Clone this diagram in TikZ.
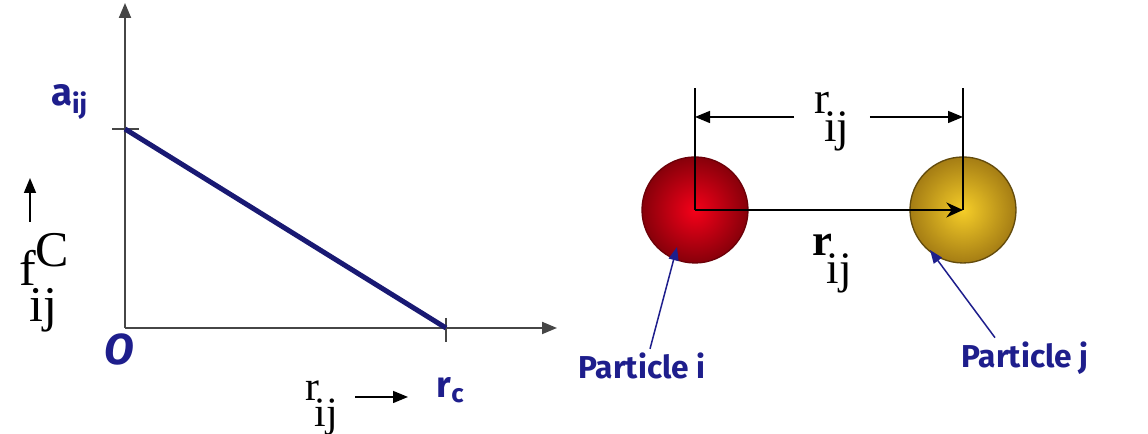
\documentclass[tikz,border=0pt]{standalone}
\usepackage{fontspec}
\setmainfont{Liberation Serif}
\newfontfamily\labfont{Fira Sans}
\usetikzlibrary{arrows.meta, positioning}
\definecolor{labblue}{RGB}{30,30,140}
\definecolor{lineblue}{RGB}{25,25,115}
\definecolor{axisgray}{RGB}{70,70,70}
\definecolor{redin}{RGB}{245,0,25}
\definecolor{redout}{RGB}{135,0,10}
\definecolor{goldin}{RGB}{245,205,40}
\definecolor{goldout}{RGB}{165,125,20}
\newcommand{\rij}{r\kern-0.12em\raisebox{-0.62em}{ij}}

\begin{document}
\begin{tikzpicture}[x=0.3pt, y=-0.3pt, >={Triangle[length=4.5pt,width=3.6pt]},
    axis/.style={draw=axisgray, line width=0.6pt},
    thin/.style={draw=black, line width=0.45pt},
    bluelab/.style={text=labblue, font=\labfont\bfseries\fontsize{9.5}{10}\selectfont, inner sep=1pt},
    serlab/.style={font=\fontsize{12.5}{13}\selectfont, inner sep=1pt},
    ball/.style={circle, draw, line width=0.4pt, minimum size=31.8pt, inner sep=0pt, shading=radial},
    pointer/.style={draw=labblue, line width=0.45pt, -{Triangle[length=4pt,width=3pt]}}]
    \useasboundingbox (0,0) rectangle (1148,434);
    % force graph
    \coordinate (O) at (125,328);
    \coordinate (ytop) at (125,3);
    \coordinate (xend) at (557,328);
    \coordinate (A) at (125,129);
    \coordinate (C) at (446,328);
    \draw[axis, ->] (O) -- (ytop);
    \draw[axis, ->] (O) -- (xend);
    \draw[axis] (A) ++(-13,0) -- ++(27,0);
    \draw[axis] (C) ++(0,-10) -- ++(0,24);
    \draw[draw=lineblue, line width=1.5pt] (A) -- (C);
    \node[bluelab, font=\labfont\bfseries\fontsize{11.5}{12}\selectfont] (aij) at (70,102) {a\textsubscript{ij}};
    \node[bluelab, font=\labfont\bfseries\itshape\fontsize{13}{13}\selectfont] (orig) at (119,350) {O};
    \node[bluelab, font=\labfont\bfseries\fontsize{11}{12}\selectfont] (rc) at (451,390) {r\textsubscript{c}};
    \node[serlab, font=\fontsize{15}{15}\selectfont] (fc) at (38,283) {f\raisebox{0.38em}{C}\kern-0.8em\raisebox{-0.72em}{ij}};
    \coordinate (fa) at (30,222);
    \coordinate (fb) at (30,178);
    \draw[thin, ->] (fa) -- (fb);
    \node[serlab] (rx) at (322,408) {\rij};
    \coordinate (ra) at (355,397);
    \coordinate (rb) at (408,397);
    \draw[thin, ->] (ra) -- (rb);
    % particles
    \node[ball, draw=redout!80!black, inner color=redin, outer color=redout] (pi) at (695,210) {};
    \node[ball, draw=goldout!60!black, inner color=goldin, outer color=goldout] (pj) at (963,210) {};
    \coordinate (ti) at (695,88);
    \coordinate (tj) at (963,88);
    \draw[thin] (pi.center) -- (ti);
    \draw[thin] (pj.center) -- (tj);
    \node[serlab, font=\fontsize{13.5}{14}\selectfont, inner sep=6pt] (rtop) at (832,122) {\rij};
    \coordinate (dl) at (695,117);
    \coordinate (dr) at (963,117);
    \draw[thin, ->] (rtop.west |- dl) -- (dl);
    \draw[thin, ->] (rtop.east |- dr) -- (dr);
    \draw[thin, -{Stealth[length=5pt,width=4.5pt]}] (pi.center) -- (pj.center);
    \node[serlab, font=\fontsize{13.5}{14}\selectfont] (rvec) at (832,264) {\textbf{r}\kern-0.12em\raisebox{-0.62em}{ij}};
    \node[bluelab] (lpi) at (642,366) {Particle i};
    \node[bluelab] (lpj) at (1025,358) {Particle j};
    \coordinate (tipi) at (677,247);
    \coordinate (tipj) at (930,250);
    \draw[pointer] ([xshift=2.4pt]lpi.north) -- (tipi);
    \draw[pointer] ([xshift=-9pt]lpj.north) -- (tipj);
\end{tikzpicture}
\end{document}
